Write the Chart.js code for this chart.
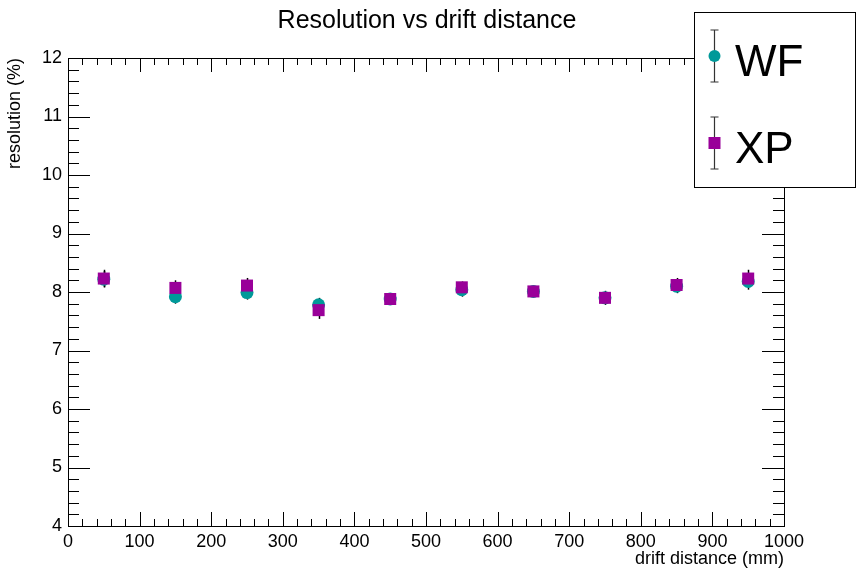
<html>
<head>
  <style type="text/css">
    body { margin: 0; background: #fff; }
    #wrap { width: 856px; height: 573px; }
  </style>
</head>
<body>
  <div id="wrap"><canvas id="chart"></canvas></div>
  <script src="https://cdn.jsdelivr.net/npm/chart.js@4"></script>
  <script>
    const distance = [50, 150, 250, 350, 450, 550, 650, 750, 850, 950];
    const wfRes = [8.22, 7.92, 7.99, 7.78, 7.88, 8.04, 8.01, 7.90, 8.10, 8.18];
    const wfErr = [0.14, 0.12, 0.12, 0.12, 0.10, 0.12, 0.10, 0.10, 0.12, 0.14];
    const xpRes = [8.23, 8.07, 8.11, 7.69, 7.88, 8.08, 8.01, 7.90, 8.12, 8.23];
    const xpErr = [0.15, 0.13, 0.13, 0.15, 0.10, 0.10, 0.10, 0.12, 0.12, 0.15];

    const FONT = "'Liberation Sans', Arial, sans-serif";

    function points(ys) {
      return distance.map((x, i) => ({ x: x, y: ys[i] }));
    }

    // ROOT style: frame, inward ticks on all four sides, error bars, legend box
    const rootStyle = {
      id: 'rootStyle',
      beforeDatasetsDraw(chart) {
        const ctx = chart.ctx;
        const xs = chart.scales.x, ys = chart.scales.y;
        ctx.save();
        ctx.strokeStyle = '#000';
        ctx.lineWidth = 1.5;
        chart.data.datasets.forEach((ds) => {
          ds.data.forEach((p, i) => {
            const px = Math.round(xs.getPixelForValue(p.x)) + 0.5;
            ctx.beginPath();
            ctx.moveTo(px, ys.getPixelForValue(p.y - ds.errors[i]));
            ctx.lineTo(px, ys.getPixelForValue(p.y + ds.errors[i]));
            ctx.stroke();
          });
        });
        ctx.restore();
      },
      afterDatasetsDraw(chart) {
        const ctx = chart.ctx;
        const a = chart.chartArea;
        const xs = chart.scales.x, ys = chart.scales.y;
        ctx.save();
        ctx.strokeStyle = '#000';
        ctx.lineWidth = 1;
        ctx.strokeRect(Math.round(a.left) + 0.5, Math.round(a.top) + 0.5,
                       Math.round(a.right - a.left), Math.round(a.bottom - a.top));
        ctx.beginPath();
        for (let v = 0; v <= 1000; v += 20) {
          const px = Math.round(xs.getPixelForValue(v)) + 0.5;
          const len = v % 100 === 0 ? 14 : 7;
          ctx.moveTo(px, a.bottom); ctx.lineTo(px, a.bottom - len);
          ctx.moveTo(px, a.top); ctx.lineTo(px, a.top + len);
        }
        for (let k = 0; k <= 40; k++) {
          const v = 4 + k * 0.2;
          const py = Math.round(ys.getPixelForValue(v)) + 0.5;
          const len = k % 5 === 0 ? 22 : 11;
          ctx.moveTo(a.left, py); ctx.lineTo(a.left + len, py);
          ctx.moveTo(a.right, py); ctx.lineTo(a.right - len, py);
        }
        ctx.stroke();

        // title
        ctx.fillStyle = '#000';
        ctx.font = '25px ' + FONT;
        ctx.textAlign = 'center';
        ctx.textBaseline = 'alphabetic';
        ctx.fillText('Resolution vs drift distance', 427, 28);

        // legend box
        const bx = 694, by = 12, bw = 161, bh = 175;
        ctx.fillStyle = '#fff';
        ctx.fillRect(bx, by, bw, bh);
        ctx.strokeStyle = '#000';
        ctx.lineWidth = 1;
        ctx.strokeRect(bx + 0.5, by + 0.5, bw, bh);
        const rows = [56, 143];
        chart.data.datasets.forEach((ds, i) => {
          const cy = rows[i], cx = 714.5;
          ctx.strokeStyle = '#333';
          ctx.lineWidth = 1.2;
          ctx.beginPath();
          ctx.moveTo(cx, cy - 26); ctx.lineTo(cx, cy + 26);
          ctx.moveTo(cx - 4, cy - 26); ctx.lineTo(cx + 4, cy - 26);
          ctx.moveTo(cx - 4, cy + 26); ctx.lineTo(cx + 4, cy + 26);
          ctx.stroke();
          ctx.fillStyle = ds.backgroundColor;
          ctx.beginPath();
          if (ds.pointStyle === 'circle') {
            ctx.arc(cx, cy, 6, 0, Math.PI * 2);
          } else {
            ctx.rect(cx - 6, cy - 6, 12, 12);
          }
          ctx.fill();
          ctx.fillStyle = '#000';
          ctx.font = '44px ' + FONT;
          ctx.textAlign = 'left';
          ctx.fillText(ds.label, 735, cy + 20);
        });
        ctx.restore();
      }
    };

    new Chart(document.getElementById('chart'), {
      type: 'scatter',
      data: {
        datasets: [
          {
            label: 'WF',
            data: points(wfRes),
            errors: wfErr,
            pointStyle: 'circle',
            radius: 6.5,
            backgroundColor: '#009999',
            borderColor: '#009999',
            borderWidth: 0,
            order: 2
          },
          {
            label: 'XP',
            data: points(xpRes),
            errors: xpErr,
            pointStyle: 'rect',
            radius: 8.5,
            backgroundColor: '#990099',
            borderColor: '#990099',
            borderWidth: 0,
            order: 1
          }
        ]
      },
      options: {
        responsive: true,
        maintainAspectRatio: false,
        animation: false,
        layout: { padding: { top: 58, right: 72, bottom: 0, left: 0 } },
        plugins: {
          legend: { display: false },
          tooltip: { enabled: false }
        },
        scales: {
          x: {
            type: 'linear',
            min: 0, max: 1000,
            afterFit(scale) { scale.height = 47; },
            grid: { display: false, drawTicks: false },
            border: { display: false },
            ticks: {
              stepSize: 100, padding: 5, color: '#000', maxRotation: 0,
              font: { family: FONT, size: 18 },
              callback: (v) => String(v)
            },
            title: {
              display: true, text: 'drift distance (mm)', align: 'end', color: '#000',
              font: { family: FONT, size: 18 }, padding: { top: 0, bottom: 3 }
            }
          },
          y: {
            min: 4, max: 12,
            afterFit(scale) { scale.width = 68; },
            grid: { display: false, drawTicks: false },
            border: { display: false },
            ticks: { stepSize: 1, padding: 6, color: '#000', font: { family: FONT, size: 18 } },
            title: {
              display: true, text: 'resolution (%)', align: 'end', color: '#000',
              font: { family: FONT, size: 18 }, padding: { top: 4, bottom: 0 }
            }
          }
        }
      },
      plugins: [rootStyle]
    });
  </script>
</body>
</html>
